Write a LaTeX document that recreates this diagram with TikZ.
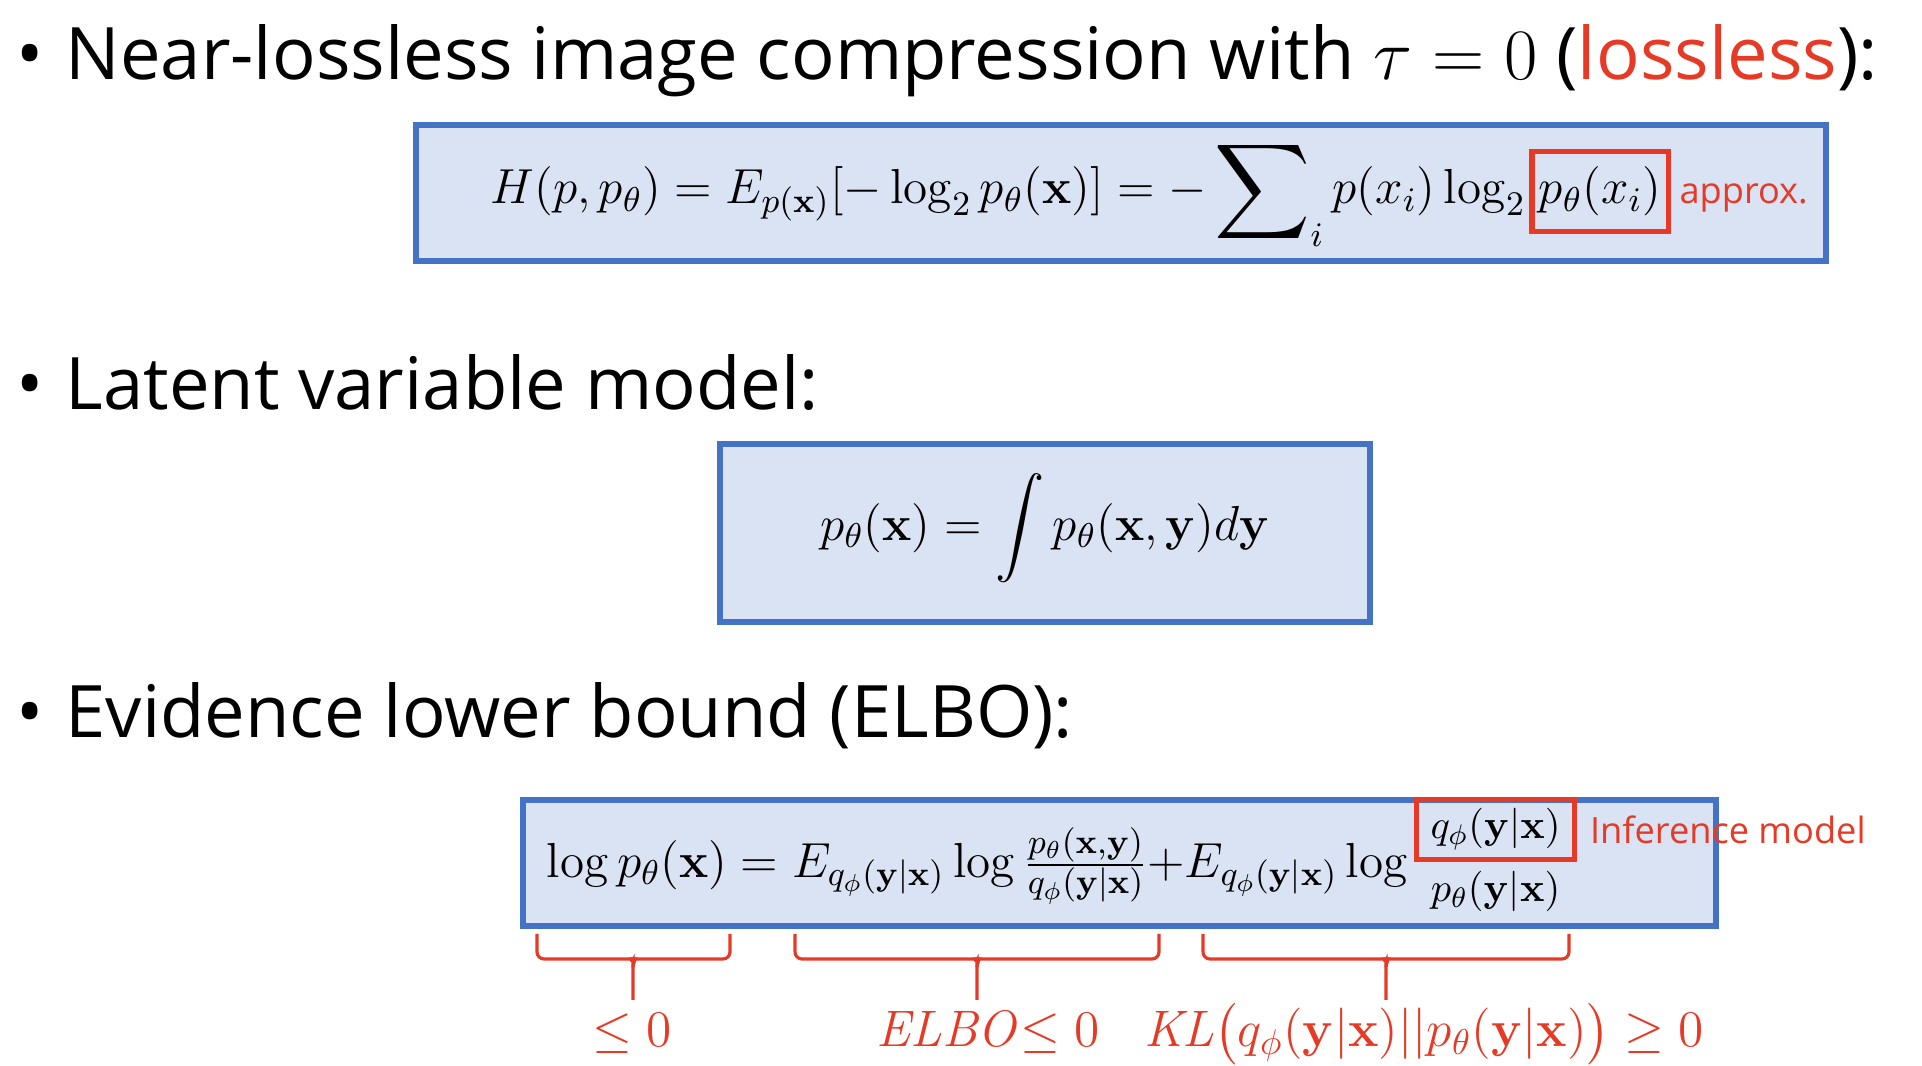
\RequirePackage{fix-cm}
\documentclass[tikz,border=0pt]{standalone}
\usepackage[no-math]{fontspec}
\usepackage{amsmath}
\usepackage{amsfonts}
\setmainfont{Open Sans}
\usetikzlibrary{positioning}

\definecolor{boxblue}{RGB}{68,114,196}
\definecolor{boxfill}{RGB}{218,227,243}
\definecolor{mark}{RGB}{230,58,38}

\begin{document}
\begin{tikzpicture}[
        bullet/.style={anchor=base west, inner sep=0pt, font=\fontsize{20.6}{24}\selectfont},
        eqbox/.style={rectangle, draw=boxblue, fill=boxfill, line width=1.8pt},
        eq/.style={anchor=base west, inner sep=0pt},
        redbox/.style={rectangle, draw=mark, line width=1.5pt, inner xsep=2pt, inner ysep=1.5pt},
        note/.style={text=mark, inner sep=0pt, font=\fontsize{10.3}{12}\selectfont},
        brace/.style={draw=mark, line width=0.9pt, rounded corners=2pt},
        lbl/.style={text=mark, anchor=base, inner sep=0pt, font=\fontsize{14.6}{17}\selectfont},
        node distance=0.1cm and 0.1cm
    ]
    \useasboundingbox (0,0) rectangle (19.22,-10.66);

    % bullets
    \node[bullet] (t1) at (0.16,-0.80) {\textbullet\hspace{0.3em}Near-lossless image compression with $\tau = 0$ (\textcolor{mark}{lossless}):};
    \node[bullet] (t2) at (0.16,-4.10) {\textbullet\hspace{0.3em}Latent variable model:};
    \node[bullet] (t3) at (0.16,-7.38) {\textbullet\hspace{0.3em}Evidence lower bound (ELBO):};

    % boxes
    \node[eqbox, minimum width=14.10cm, minimum height=1.36cm] (box1) at (11.21,-1.93) {};
    \node[eqbox, minimum width=6.50cm,  minimum height=1.78cm] (box2) at (10.45,-5.33) {};
    \node[eqbox, minimum width=11.93cm, minimum height=1.26cm] (box3) at (11.195,-8.63) {};

    % cross entropy
    \node[eq, font=\fontsize{14}{17}\selectfont] (h1) at (4.90,-2.04)
        {$H(p,p_\theta) = E_{p(\mathbf{x})}[-\log_2 p_\theta(\mathbf{x})] = -\mathop{\vcenter{\hbox{\scalebox{1.35}{$\displaystyle\sum$}}}}\nolimits_i p(x_i)\log_2$};
    \node[redbox, anchor=base west, minimum height=0.80cm, font=\fontsize{14}{17}\selectfont] (h2) at ([xshift=0.03cm]h1.base east) {$p_\theta(x_i)$};
    \node[note, anchor=base west] (apx) at ([xshift=0.08cm]h2.base east) {approx.};

    % latent variable model
    \node[font=\fontsize{14}{17}\selectfont] (pint) at ([yshift=0.05cm]box2) {$p_\theta(\mathbf{x}) = \displaystyle\int p_\theta(\mathbf{x},\mathbf{y})d\mathbf{y}$};

    % ELBO
    \node[eq, font=\fontsize{14}{17}\selectfont] (e3) at (5.46,-8.77)
        {$\log p_\theta(\mathbf{x}) = E_{q_\phi(\mathbf{y}|\mathbf{x})}\log\frac{p_\theta(\mathbf{x},\mathbf{y})}{q_\phi(\mathbf{y}|\mathbf{x})}{+}E_{q_\phi(\mathbf{y}|\mathbf{x})}\log$};
    \node[redbox, anchor=south west, minimum height=0.60cm, inner xsep=4pt, font=\fontsize{11.5}{13}\selectfont] (qn) at ([xshift=0.05cm, yshift=0.15cm]e3.base east) {$q_\phi(\mathbf{y}|\mathbf{x})$};
    \node[font=\fontsize{11.5}{13}\selectfont, inner sep=0pt] (den) [below=0.08cm of qn] {$p_\theta(\mathbf{y}|\mathbf{x})$};
    \node[note, anchor=west] (inf) [right=0.12cm of qn] {Inference model};

    % labels under the braces
    \node[lbl] (l1) at (6.32,-10.47) {$\leq 0$};
    \node[lbl] (l2) at (9.88,-10.47) {$\mathit{ELBO}{\leq}\ 0$};
    \node[lbl] (l3) at (14.24,-10.47) {$\mathit{KL}\bigl(q_\phi(\mathbf{y}|\mathbf{x})||p_\theta(\mathbf{y}|\mathbf{x})\bigr) \geq 0$};

    \draw[brace] (5.37,-9.34) -- (5.37,-9.59) -- (6.25,-9.59) to[out=0,in=90] (6.33,-9.67) -- (6.33,-10.00);
    \draw[brace] (7.30,-9.34) -- (7.30,-9.59) -- (6.41,-9.59) to[out=180,in=90] (6.33,-9.67);
    \draw[brace] (7.95,-9.34) -- (7.95,-9.59) -- (9.69,-9.59) to[out=0,in=90] (9.77,-9.67) -- (9.77,-10.00);
    \draw[brace] (11.59,-9.34) -- (11.59,-9.59) -- (9.85,-9.59) to[out=180,in=90] (9.77,-9.67);
    \draw[brace] (12.03,-9.34) -- (12.03,-9.59) -- (13.78,-9.59) to[out=0,in=90] (13.86,-9.67) -- (13.86,-10.00);
    \draw[brace] (15.69,-9.34) -- (15.69,-9.59) -- (13.94,-9.59) to[out=180,in=90] (13.86,-9.67);
\end{tikzpicture}
\end{document}
